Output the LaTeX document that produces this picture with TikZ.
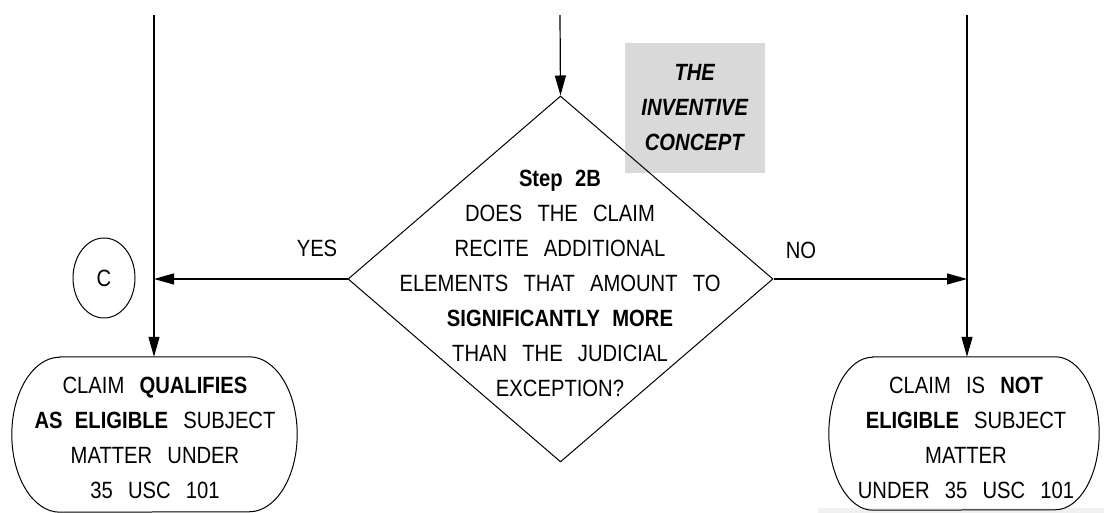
\documentclass[tikz,border=0pt]{standalone}
\usepackage{fontspec}
\setmainfont{Liberation Sans}[FakeStretch=0.86, WordSpace=2.7,
  BoldFeatures={WordSpace=2.2}, BoldItalicFeatures={WordSpace=2.2}]
\usetikzlibrary{arrows.meta,shapes.geometric}

\tikzset{
  flow/.style={line width=1.2pt, -{Triangle[length=20pt,width=11pt]}},
  outline/.style={line width=1pt},
  label/.style={font=\fontsize{23.5}{35}\selectfont, inner sep=0pt, align=center},
  endbox/.style={inner sep=0pt},
}

\begin{document}
\begin{tikzpicture}[x=1pt,y=1pt]
  \useasboundingbox (0,0) rectangle (1104,513);

  % faint band along the lower right edge
  \fill[black!6] (818,0) rectangle (1104,5);

  % note box beside the decision
  \node[label, fill=gray!30, minimum width=140pt, minimum height=130pt]
    (note) at (695,405) {\textbf{\textit{THE}}\\ \textbf{\textit{INVENTIVE}}\\ \textbf{\textit{CONCEPT}}};

  % decision diamond and its question
  \node[draw, outline, shape=diamond, minimum width=425pt, minimum height=366pt, inner sep=0pt]
    (d) at (560.5,234) {};
  \node[label] (q) at (560,230) {\textbf{Step 2B}\\ DOES THE CLAIM\\ RECITE ADDITIONAL\\
    ELEMENTS THAT AMOUNT TO\\ \textbf{SIGNIFICANTLY MORE}\\ THAN THE JUDICIAL\\ EXCEPTION?};

  % end boxes: outline frames and their texts
  \node[endbox, minimum width=285pt, minimum height=155pt] (lb) at (154.5,78.5) {};
  \node[endbox, minimum width=270pt, minimum height=153pt] (rb) at (964,79.5) {};
  \draw[outline] ([xshift=48pt]lb.north west) -- ([xshift=-48pt]lb.north east)
    arc[start angle=90, end angle=-90, x radius=48pt, y radius=77.5pt]
    -- ([xshift=48pt]lb.south west)
    arc[start angle=270, end angle=90, x radius=48pt, y radius=77.5pt] -- cycle;
  \draw[outline] ([xshift=44pt]rb.north west) -- ([xshift=-44pt]rb.north east)
    arc[start angle=90, end angle=-90, x radius=44pt, y radius=76.5pt]
    -- ([xshift=44pt]rb.south west)
    arc[start angle=270, end angle=90, x radius=44pt, y radius=76.5pt] -- cycle;
  \node[label] (lt) at (155,75)
    {CLAIM \textbf{QUALIFIES}\\ \textbf{AS ELIGIBLE} SUBJECT\\ MATTER UNDER\\ 35 USC 101};
  \node[label] (rt) at (966,75)
    {CLAIM IS \textbf{NOT}\\ \textbf{ELIGIBLE} SUBJECT\\ MATTER\\ UNDER 35 USC 101};

  % connector C
  \node[draw, outline, shape=ellipse, minimum width=62pt, minimum height=80pt, inner sep=0pt,
    font=\fontsize{23.5}{35}\selectfont] (c) at (104,235) {C};

  % incoming lines
  \coordinate (din) at (560,498);
  \coordinate (ltop) at (154,498);
  \coordinate (rtop) at (967,498);
  \draw[flow] (din) -- (d.north);
  \draw[flow] (ltop) -- (ltop |- lb.north);
  \draw[flow] (rtop) -- (rtop |- rb.north);

  % branches
  \draw[flow] (d.west) -- (d.west -| ltop);
  \draw[flow] (d.east) -- (d.east -| rtop);
  \node[label] (yes) at (317,265) {YES};
  \node[label] (no) at (801,263) {NO};
\end{tikzpicture}
\end{document}
